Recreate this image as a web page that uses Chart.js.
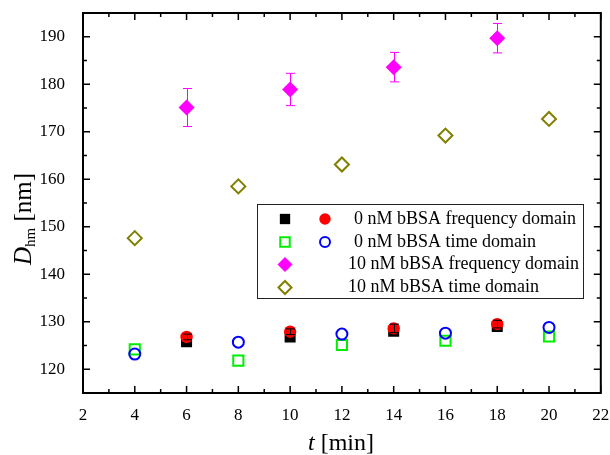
<!DOCTYPE html>
<html>
<head>
<meta charset="utf-8">
<script src="https://cdn.jsdelivr.net/npm/chart.js@4/dist/chart.umd.min.js"></script>
<style>
  html, body { margin: 0; padding: 0; background: #fff; }
  #wrap { width: 610px; height: 455px; }
</style>
</head>
<body>
<div id="wrap"><canvas id="grafico"></canvas></div>
<script>
// dados
const tFreq = [6, 10, 14, 18];
const tTime = [4, 8, 12, 16, 20];
const freq0Square = [125.8, 126.8, 128.0, 129.0];
const freq0Circle = [126.8, 127.9, 128.6, 129.5];
const freq0CircleErr = [0.6, 0.6, 0.9, 0.8];
const time0Square = [124.2, 121.8, 125.1, 126.0, 126.9];
const time0Circle = [123.2, 125.7, 127.4, 127.6, 128.8];
const freq10 = [175.1, 178.9, 183.6, 189.7];
const freq10Err = [4.0, 3.4, 3.1, 3.1];
const time10 = [147.6, 158.5, 163.1, 169.2, 172.7];

const xTicks = [2, 4, 6, 8, 10, 12, 14, 16, 18, 20, 22];
const yTicks = [120, 130, 140, 150, 160, 170, 180, 190];

const legendRows = [
    '0 nM bBSA frequency domain',
    '0 nM bBSA time domain',
    '10 nM bBSA frequency domain',
    '10 nM bBSA time domain'
];

const FONT = '"Liberation Serif", "Times New Roman", serif';

function pts(xs, ys) {
    return xs.map((x, i) => ({ x: x, y: ys[i] }));
}

// conjuntos (o primeiro fica por cima)
const datasets = [
    { label: legendRows[1], data: pts(tTime, time0Circle), pointStyle: 'circle', pointRadius: 5.5,
      borderColor: '#0000ff', backgroundColor: 'rgba(0,0,0,0)', borderWidth: 2 },
    { label: legendRows[0], data: pts(tFreq, freq0Circle), pointStyle: 'circle', pointRadius: 6.2,
      borderColor: '#ff0000', backgroundColor: '#ff0000', borderWidth: 0, err: freq0CircleErr, errColor: '#000' },
    { label: legendRows[1], data: pts(tTime, time0Square), pointStyle: 'rect', pointRadius: 7.2,
      borderColor: '#00ee00', backgroundColor: 'rgba(0,0,0,0)', borderWidth: 2 },
    { label: legendRows[0], data: pts(tFreq, freq0Square), pointStyle: 'rect', pointRadius: 7.8,
      borderColor: '#000', backgroundColor: '#000', borderWidth: 0 },
    { label: legendRows[2], data: pts(tFreq, freq10), pointStyle: 'rectRot', pointRadius: 8,
      borderColor: '#ff00ff', backgroundColor: '#ff00ff', borderWidth: 0, err: freq10Err, errColor: '#ff00ff' },
    { label: legendRows[3], data: pts(tTime, time10), pointStyle: 'rectRot', pointRadius: 7,
      borderColor: '#808000', backgroundColor: 'rgba(0,0,0,0)', borderWidth: 2 }
];
datasets.forEach(d => { d.showLine = false; d.pointHoverRadius = d.pointRadius; });

// moldura, marcas internas, barras de erro, títulos e legenda
const extras = {
    id: 'extras',
    afterDatasetsDraw(chart) {
        const ctx = chart.ctx;
        const xs = chart.scales.x, ys = chart.scales.y;
        ctx.save();
        chart.data.datasets.forEach(ds => {
            if (!ds.err) return;
            ctx.strokeStyle = ds.errColor;
            ctx.lineWidth = 1;
            ds.data.forEach((p, i) => {
                const px = Math.round(xs.getPixelForValue(p.x)) + 0.5;
                const y1 = ys.getPixelForValue(p.y + ds.err[i]);
                const y2 = ys.getPixelForValue(p.y - ds.err[i]);
                ctx.beginPath();
                ctx.moveTo(px, y1); ctx.lineTo(px, y2);
                ctx.moveTo(px - 4.5, y1); ctx.lineTo(px + 4.5, y1);
                ctx.moveTo(px - 4.5, y2); ctx.lineTo(px + 4.5, y2);
                ctx.stroke();
            });
        });
        ctx.restore();
    },
    afterDraw(chart) {
        const ctx = chart.ctx;
        const a = chart.chartArea;
        const xs = chart.scales.x, ys = chart.scales.y;
        ctx.save();
        ctx.strokeStyle = '#000';
        ctx.lineWidth = 1.5;
        ctx.beginPath();
        // marcas do eixo x (para dentro)
        for (let v = xs.min; v <= xs.max; v += 1) {
            const px = xs.getPixelForValue(v);
            const len = v % 2 === 0 ? 7 : 4;
            ctx.moveTo(px, a.bottom); ctx.lineTo(px, a.bottom - len);
            ctx.moveTo(px, a.top); ctx.lineTo(px, a.top + len);
        }
        for (let v = 120; v <= ys.max; v += 5) {
            const py = ys.getPixelForValue(v);
            const len = v % 10 === 0 ? 7 : 4;
            ctx.moveTo(a.left, py); ctx.lineTo(a.left + len, py);
            ctx.moveTo(a.right, py); ctx.lineTo(a.right - len, py);
        }
        ctx.stroke();
        ctx.lineWidth = 2;
        ctx.strokeRect(a.left, a.top, a.right - a.left, a.bottom - a.top);

        // título x
        ctx.fillStyle = '#000';
        ctx.textBaseline = 'middle';
        ctx.textAlign = 'left';
        ctx.font = 'italic 24px ' + FONT;
        const wT = ctx.measureText('t').width;
        ctx.font = '24px ' + FONT;
        const wM = ctx.measureText(' [min]').width;
        let x0 = 341 - (wT + wM) / 2;
        ctx.font = 'italic 24px ' + FONT;
        ctx.fillText('t', x0, 444);
        ctx.font = '24px ' + FONT;
        ctx.fillText(' [min]', x0 + wT, 444);

        // título y
        ctx.save();
        ctx.translate(24, 219);
        ctx.rotate(-Math.PI / 2);
        ctx.font = 'italic 25px ' + FONT;
        const wD = ctx.measureText('D').width;
        ctx.font = '15px ' + FONT;
        const wH = ctx.measureText('hm').width;
        ctx.font = '25px ' + FONT;
        const wN = ctx.measureText(' [nm]').width;
        x0 = -(wD + wH + wN) / 2;
        ctx.font = 'italic 25px ' + FONT;
        ctx.fillText('D', x0, 0);
        ctx.font = '15px ' + FONT;
        ctx.fillText('hm', x0 + wD, 7);
        ctx.font = '25px ' + FONT;
        ctx.fillText(' [nm]', x0 + wD + wH, 0);
        ctx.restore();

        // legenda
        ctx.lineWidth = 1;
        ctx.strokeStyle = '#222';
        ctx.strokeRect(257.5, 204.5, 326, 94);
        const rowY = [219, 242, 264.5, 287.5];
        const draw = (ds, x, y) => {
            ctx.fillStyle = ds.backgroundColor;
            ctx.strokeStyle = ds.borderColor;
            ctx.lineWidth = ds.borderWidth;
            Chart.helpers.drawPoint(ctx, { pointStyle: ds.pointStyle, radius: ds.pointRadius - 0.5,
                rotation: 0, borderWidth: ds.borderWidth }, x, y);
        };
        const d = chart.data.datasets;
        draw(d[3], 285, rowY[0]); draw(d[1], 325, rowY[0]);
        draw(d[2], 285, rowY[1]); draw(d[0], 325, rowY[1]);
        draw(d[4], 285, rowY[2]);
        draw(d[5], 285, rowY[3]);
        ctx.fillStyle = '#000';
        ctx.font = '18px ' + FONT;
        ctx.textAlign = 'left';
        ctx.fillText(legendRows[0], 354, rowY[0]);
        ctx.fillText(legendRows[1], 354, rowY[1]);
        ctx.fillText(legendRows[2], 348, rowY[2]);
        ctx.fillText(legendRows[3], 348, rowY[3]);
        ctx.restore();
    }
};

const ctx = document.getElementById('grafico');

new Chart(ctx, {
    type: 'scatter',
    data: { datasets: datasets },
    options: {
        responsive: true,
        maintainAspectRatio: false,
        animation: false,
        layout: { padding: { top: 13, right: 9, left: 0, bottom: 0 } },
        plugins: {
            legend: { display: false },
            tooltip: { enabled: false }
        },
        scales: {
            x: {
                type: 'linear',
                min: 2, max: 22,
                grid: { display: false },
                border: { display: false },
                afterBuildTicks: s => { s.ticks = xTicks.map(v => ({ value: v })); },
                afterFit: s => { s.height = 62; s.paddingLeft = 0; s.paddingRight = 0; },
                ticks: { color: '#000', padding: 4, maxRotation: 0, font: { family: FONT, size: 17 } }
            },
            y: {
                min: 115, max: 195,
                grid: { display: false },
                border: { display: false },
                afterBuildTicks: s => { s.ticks = yTicks.map(v => ({ value: v })); },
                afterFit: s => { s.width = 83; s.paddingTop = 0; s.paddingBottom = 0; },
                ticks: { color: '#000', padding: 10, font: { family: FONT, size: 17 } }
            }
        }
    },
    plugins: [extras]
});
</script>
</body>
</html>
